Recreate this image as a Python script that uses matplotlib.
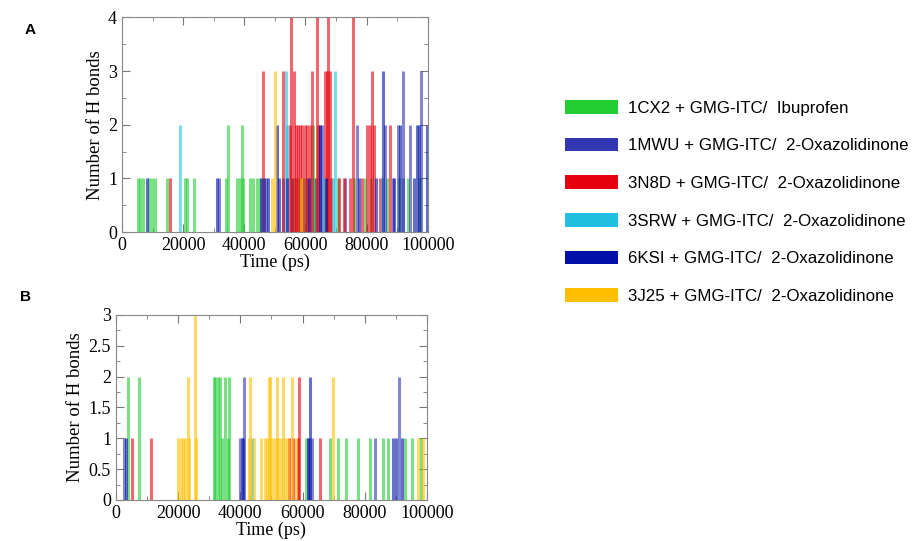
import matplotlib
matplotlib.use("Agg")
import matplotlib.pyplot as plt
from matplotlib.patches import Patch
from matplotlib.ticker import MultipleLocator, FormatStrFormatter

# series names and colours
labels = ["1CX2 + GMG-ITC/  Ibuprofen",
          "1MWU + GMG-ITC/  2-Oxazolidinone",
          "3N8D + GMG-ITC/  2-Oxazolidinone",
          "3SRW + GMG-ITC/  2-Oxazolidinone",
          "6KSI + GMG-ITC/  2-Oxazolidinone",
          "3J25 + GMG-ITC/  2-Oxazolidinone"]
colors = ["#22cc33", "#3338b2", "#e8000f", "#22c0e0", "#0010a8", "#ffbf00"]

# ---- panel A : h-bond events (time ps, number of bonds)
a_1cx2_t = [5200, 6000, 6900, 8800, 9800, 10800, 14600, 20600, 21200, 23500, 34000,
            34700, 37500, 38500, 39100, 39600, 41800, 42800, 44000, 45000, 56000, 58000,
            59500, 62400, 62800, 67000, 70500, 76000, 79500, 81500, 86500, 90500, 93500, 97500]
a_1cx2_n = [1, 1, 1, 1, 1, 1, 1, 1, 1, 1, 1,
            2, 1, 1, 2, 1, 1, 1, 1, 1, 1, 1,
            1, 2, 1, 1, 1, 1, 1, 1, 1, 1, 1, 1]
a_1mwu_t = [31800, 47000, 52500, 55500, 60500, 63500, 64700, 65500, 73000, 76800, 86000,
            88500, 90200, 91900, 92000, 94100, 97900]
a_1mwu_n = [1, 1, 1, 1, 1, 1, 2, 2, 1, 2, 2,
            1, 2, 3, 1, 2, 3]
a_3n8d_t = [15700, 46000, 52600, 55000, 55100, 56200, 56800, 57000, 57700, 58200, 59000,
            59800, 60600, 61400, 62000, 63600, 64000, 66300, 67000, 67300, 68000, 68500,
            71000, 72500, 74500, 75500, 78500, 80000, 81000, 81900, 82500, 84500, 87600]
a_3n8d_n = [1, 3, 3, 2, 4, 3, 2, 1, 2, 2, 2,
            2, 2, 2, 3, 4, 2, 3, 3, 4, 3, 1,
            1, 1, 1, 4, 1, 2, 2, 3, 2, 1, 2]
a_3srw_t = [19000, 53500, 53800, 66000, 69000, 69600, 85000]
a_3srw_n = [2, 3, 2, 1, 1, 3, 1]
a_6ksi_t = [8100, 31000, 45600, 46500, 47700, 50800, 51500, 54000, 61000, 64700, 66800,
            77500, 83000, 85400, 89000, 90800, 95500, 96300, 97000, 99600]
a_6ksi_n = [1, 1, 1, 1, 1, 2, 1, 1, 1, 2, 1,
            1, 1, 3, 1, 2, 1, 2, 2, 2]
a_3j25_t = [49000, 50000, 58500]
a_3j25_n = [1, 3, 1]

# ---- panel B
b_1cx2_t = [3900, 7300, 31400, 32000, 32700, 33500, 34000, 35200, 36000, 36400, 61000,
            68700, 71400, 74000, 77700, 81700, 86000, 87600, 92900, 95100, 98000]
b_1cx2_n = [2, 2, 2, 2, 2, 2, 1, 2, 1, 2, 1,
            1, 1, 1, 1, 1, 1, 1, 1, 1, 1]
b_1mwu_t = [2500, 39900, 40500, 41300, 62000, 63000, 83300, 91100]
b_1mwu_n = [1, 1, 1, 2, 1, 1, 1, 2]
b_3n8d_t = [5100, 11400, 55600, 57000, 58600, 58900, 65500]
b_3n8d_n = [1, 1, 1, 1, 1, 2, 1]
b_3srw_t = [43800]
b_3srw_n = [1]
b_6ksi_t = [3200, 40800, 61600, 62400, 89200, 90000, 91900]
b_6ksi_n = [1, 1, 1, 2, 1, 1, 1]
b_3j25_t = [20100, 20800, 21500, 22200, 23100, 23400, 25300, 25700, 42800, 43200, 44500,
            46500, 47900, 48500, 49100, 49500, 50200, 51000, 51700, 52200, 53000, 53800,
            54500, 55300, 56500, 57800, 69900, 97200, 98800]
b_3j25_n = [1, 1, 1, 1, 2, 1, 3, 1, 1, 2, 1,
            1, 1, 1, 2, 2, 1, 1, 2, 1, 1, 2,
            1, 1, 2, 1, 2, 1, 1]

panel_a = [(a_1cx2_t, a_1cx2_n), (a_1mwu_t, a_1mwu_n), (a_3n8d_t, a_3n8d_n),
           (a_3srw_t, a_3srw_n), (a_6ksi_t, a_6ksi_n), (a_3j25_t, a_3j25_n)]
panel_b = [(b_1cx2_t, b_1cx2_n), (b_1mwu_t, b_1mwu_n), (b_3n8d_t, b_3n8d_n),
           (b_3srw_t, b_3srw_n), (b_6ksi_t, b_6ksi_n), (b_3j25_t, b_3j25_n)]

serif = ["Liberation Serif", "DejaVu Serif"]
fig = plt.figure(figsize=(9.13, 5.41), dpi=100)
axA = fig.add_axes([0.1336, 0.571, 0.335, 0.397])
axB = fig.add_axes([0.127, 0.0758, 0.3406, 0.342])


def draw(ax, data, ymax, ymaj, ymin):
    for (t, n), c in zip(data, colors):
        ax.vlines(t, 0, n, colors=c, linewidth=2.2, alpha=0.6)
    ax.set_xlim(0, 100000)
    ax.set_ylim(0, ymax)
    ax.xaxis.set_major_locator(MultipleLocator(20000))
    ax.xaxis.set_minor_locator(MultipleLocator(10000))
    ax.yaxis.set_major_locator(MultipleLocator(ymaj))
    ax.yaxis.set_minor_locator(MultipleLocator(ymin))
    ax.yaxis.set_major_formatter(FormatStrFormatter("%g"))
    ax.tick_params(which="both", direction="in", top=True, right=True, color="#777777")
    ax.tick_params(which="major", length=6, labelsize=13)
    ax.tick_params(which="minor", length=3)
    for s in ax.spines.values():
        s.set_color("#888888")
    for lab in ax.get_xticklabels() + ax.get_yticklabels():
        lab.set_family(serif)
    ax.set_xlabel("Time (ps)", family=serif, fontsize=13, labelpad=0)
    ax.set_ylabel("Number of H bonds", family=serif, fontsize=13.5, labelpad=3)


draw(axA, panel_a, 4, 1, 0.5)
draw(axB, panel_b, 3, 0.5, 0.25)

fig.text(25 / 913, 1 - 30 / 541, "A", fontsize=11, fontweight="bold", family="Liberation Sans", va="center")
fig.text(20 / 913, 1 - 297 / 541, "B", fontsize=11, fontweight="bold", family="Liberation Sans", va="center")

handles = [Patch(facecolor=c, edgecolor="none") for c in colors]
fig.legend(handles, labels, loc="upper left", bbox_to_anchor=(565 / 913, 1 - 100 / 541),
           frameon=False, prop={"family": "Liberation Sans", "size": 12.2},
           handlelength=3.15, handleheight=0.88, handletextpad=0.58, labelspacing=1.29,
           borderpad=0, borderaxespad=0)

fig.savefig("out.png", dpi=100)
